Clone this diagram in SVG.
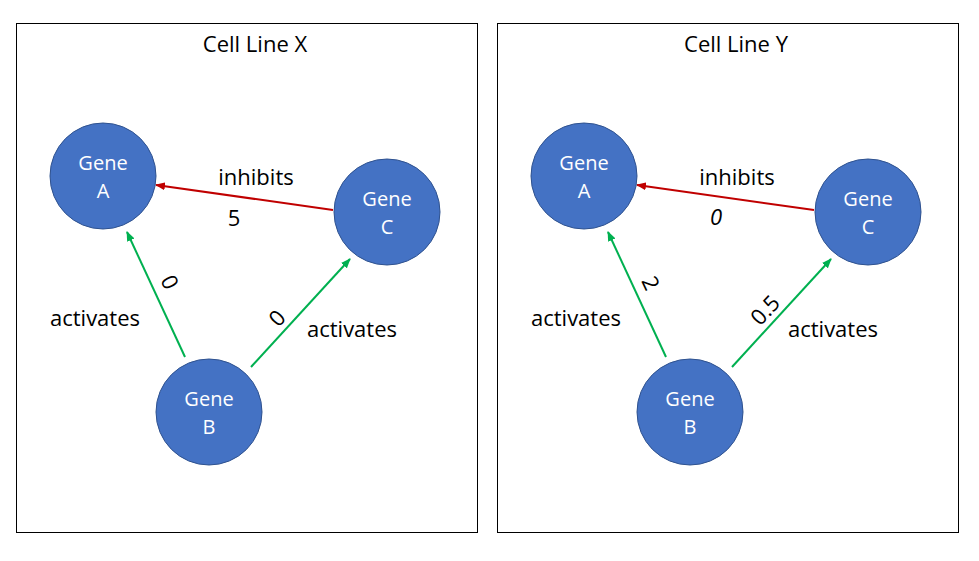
<svg xmlns="http://www.w3.org/2000/svg" width="979" height="561" viewBox="0 0 979 561">
<style>
.frame{fill:#fff;stroke:#000;stroke-width:1}
.node{fill:#4472C4;stroke:#2F528F;stroke-width:1}
.nt{font-family:"Open Sans","Liberation Sans",sans-serif;font-size:20px;fill:#fff;text-anchor:middle}
.t{font-family:"Open Sans","Liberation Sans",sans-serif;font-size:22px;fill:#000;text-anchor:middle}
.g{stroke:#00B050;stroke-width:2;fill:none;marker-end:url(#ag)}
.r{stroke:#C00000;stroke-width:2;fill:none;marker-end:url(#ar)}
</style>
<defs>
<marker id="ag" markerWidth="10" markerHeight="8" refX="9" refY="4" orient="auto" markerUnits="userSpaceOnUse"><path d="M0,0 L10,4 L0,8 Z" fill="#00B050"/></marker>
<marker id="ar" markerWidth="10" markerHeight="8" refX="9" refY="4" orient="auto" markerUnits="userSpaceOnUse"><path d="M0,0 L10,4 L0,8 Z" fill="#C00000"/></marker>
</defs>
<rect width="979" height="561" fill="#fff"/>
<g id="panel-x">
<rect class="frame" x="16.5" y="23.5" width="461" height="509"/>
<text class="t" x="255" y="52">Cell Line X</text>
</g>
<g id="panel-y">
<rect class="frame" x="497.5" y="23.5" width="461" height="509"/>
<text class="t" x="736" y="52">Cell Line Y</text>
</g>
<g id="connectors">
<line class="r" x1="333" y1="210" x2="156" y2="185"/>
<line class="g" x1="185" y1="357" x2="127" y2="232"/>
<line class="g" x1="251" y1="367" x2="350" y2="259"/>
<line class="r" x1="814" y1="210" x2="637" y2="185"/>
<line class="g" x1="666" y1="357" x2="608" y2="232"/>
<line class="g" x1="732" y1="367" x2="831" y2="259"/>
<text class="t" x="256" y="185">inhibits</text>
<text class="t" x="234" y="226">5</text>
<text class="t" x="95" y="326">activates</text>
<text class="t" x="352" y="337">activates</text>
<text class="t" transform="translate(170,282) rotate(65)" y="8">0</text>
<text class="t" transform="translate(277,318) rotate(-47)" y="8">0</text>
<text class="t" x="737" y="185">inhibits</text>
<text class="t" x="716" y="225" font-style="italic">0</text>
<text class="t" x="576" y="326">activates</text>
<text class="t" x="833" y="337">activates</text>
<text class="t" transform="translate(651,283) rotate(65)" y="8">2</text>
<text class="t" transform="translate(765,310) rotate(-47)" y="8">0.5</text>
</g>
<g id="x-gene-a"><circle class="node" cx="103" cy="176" r="53"/><text class="nt" x="103" y="170">Gene</text><text class="nt" x="103" y="198">A</text></g>
<g id="x-gene-c"><circle class="node" cx="387" cy="212" r="53"/><text class="nt" x="387" y="206">Gene</text><text class="nt" x="387" y="234">C</text></g>
<g id="x-gene-b"><circle class="node" cx="209" cy="412" r="53"/><text class="nt" x="209" y="406">Gene</text><text class="nt" x="209" y="434">B</text></g>
<g id="y-gene-a"><circle class="node" cx="584" cy="176" r="53"/><text class="nt" x="584" y="170">Gene</text><text class="nt" x="584" y="198">A</text></g>
<g id="y-gene-c"><circle class="node" cx="868" cy="212" r="53"/><text class="nt" x="868" y="206">Gene</text><text class="nt" x="868" y="234">C</text></g>
<g id="y-gene-b"><circle class="node" cx="690" cy="412" r="53"/><text class="nt" x="690" y="406">Gene</text><text class="nt" x="690" y="434">B</text></g>
</svg>
